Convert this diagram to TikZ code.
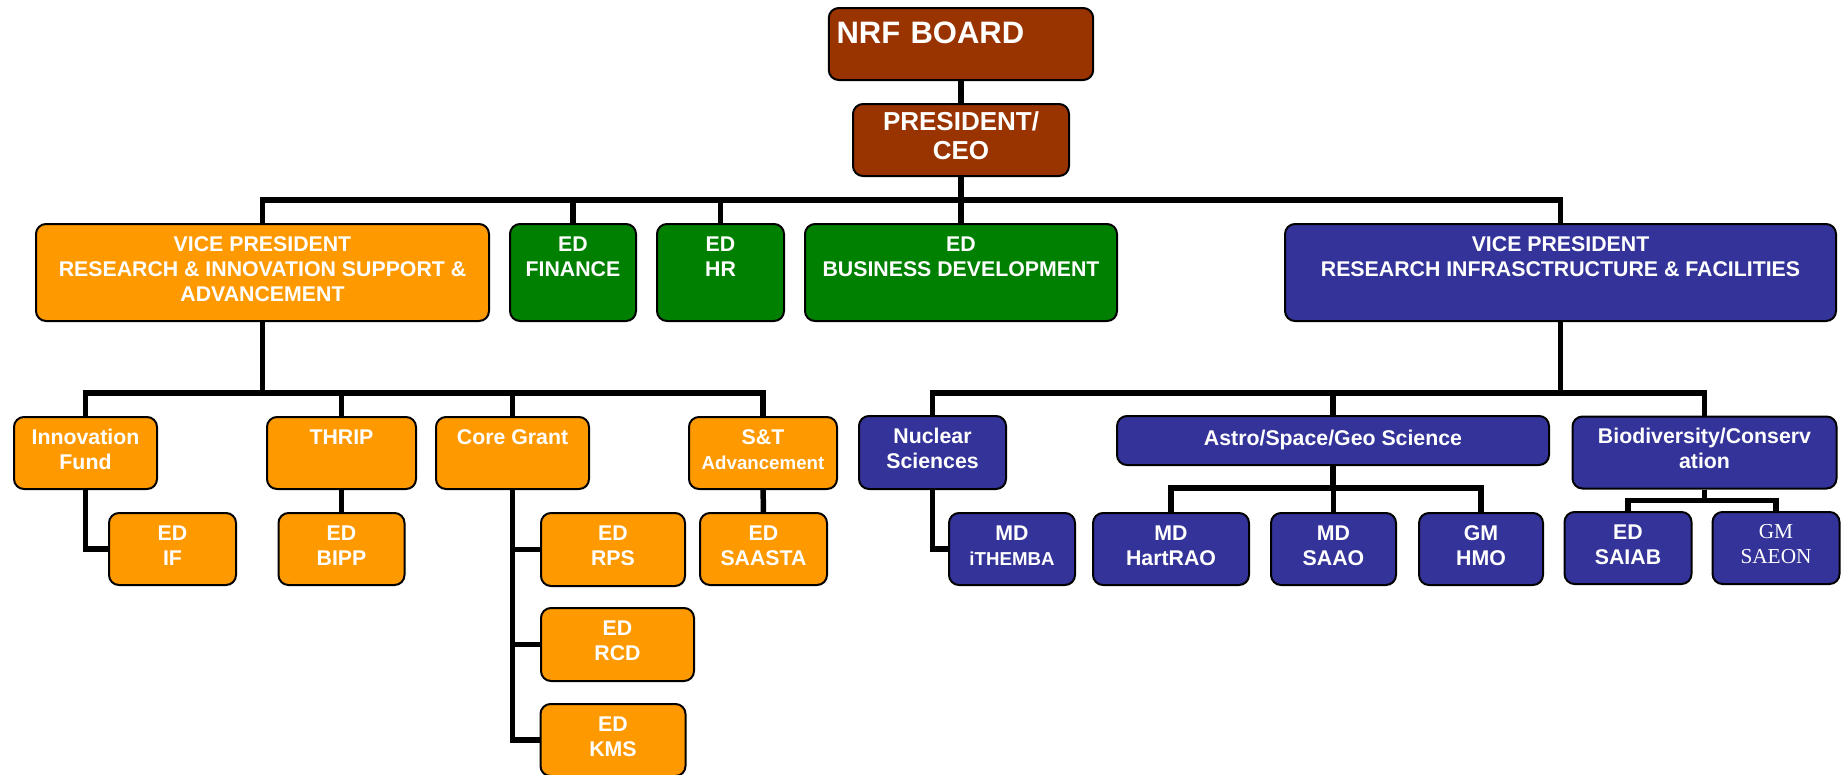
\documentclass[tikz,border=0pt]{standalone}
\usepackage{fontspec}
\setmainfont{Liberation Sans}
\newfontfamily\saeonfont{Liberation Serif}

\definecolor{nrfbrown}{RGB}{153,51,0}
\definecolor{nrforange}{RGB}{255,153,0}
\definecolor{nrfgreen}{RGB}{0,128,0}
\definecolor{nrfblue}{RGB}{51,51,153}
\newcommand{\unitfont}{\fontsize{21.3}{25}\selectfont\bfseries}
\newcommand{\smallunitfont}{\fontsize{18.7}{22}\selectfont\bfseries}

\begin{document}
\begin{tikzpicture}[x=1pt, y=-1pt,
    unit/.style={draw=black, line width=2pt, rounded corners=10pt, text=white, align=center, inner sep=0pt, font=\unitfont, execute at begin node=\strut, execute at end node=\strut},
    board/.style={unit, fill=nrfbrown},
    vpo/.style={unit, fill=nrforange},
    edg/.style={unit, fill=nrfgreen},
    vpb/.style={unit, fill=nrfblue},
    wh/.style 2 args={minimum width=#1, minimum height=#2},
    link/.style={draw=black, line width=5.5pt}]
    \useasboundingbox (0,0) rectangle (1846,774);

    % board and president
    \node[board, wh={264}{72}, text width=249, align=left, inner xsep=7.7, font=\fontsize{31}{36}\selectfont\bfseries, execute at begin node={}, execute at end node={}, text height=35.3, text depth=36.7] (nrf) at (961,44) {NRF BOARD};
    \node[board, wh={216}{72}, font=\fontsize{26}{29}\selectfont\bfseries] (pres) at (961,140) {PRESIDENT/\\CEO};

    % first level
    \node[vpo, wh={453}{97}] (vpl) at (262.5,272.5) {VICE PRESIDENT\\RESEARCH \& INNOVATION SUPPORT \&\\ADVANCEMENT};
    \node[edg, wh={126}{97}] (fin) at (573,272.5) {ED\\FINANCE\\};
    \node[edg, wh={127}{97}] (hr) at (720.5,272.5) {ED\\HR\\};
    \node[edg, wh={312}{97}] (bus) at (961,272.5) {ED\\BUSINESS DEVELOPMENT\\};
    \node[vpb, wh={551}{97}] (vpr) at (1560.5,272.5) {VICE PRESIDENT\\RESEARCH INFRASCTRUCTURE \& FACILITIES\\};

    % support & advancement
    \node[vpo, wh={143}{72}] (innov) at (85.5,453) {Innovation\\Fund};
    \node[vpo, wh={149}{72}] (thrip) at (341.5,453) {THRIP\\};
    \node[vpo, wh={153}{72}] (core) at (512.5,453) {Core Grant\\};
    \node[vpo, wh={148}{72}] (st) at (763,453) {S\&T\\{\smallunitfont Advancement}};
    \node[vpo, wh={127}{72}] (edif) at (172.5,549) {ED\\IF};
    \node[vpo, wh={126}{72}] (bipp) at (341.5,549) {ED\\BIPP};
    \node[vpo, wh={144}{73}] (rps) at (613,549.5) {ED\\RPS};
    \node[vpo, wh={153}{73}] (rcd) at (617.5,644.5) {ED\\RCD};
    \node[vpo, wh={145}{72}] (kms) at (613,740) {ED\\KMS};
    \node[vpo, wh={127}{72}] (saasta) at (763.5,549) {ED\\SAASTA};

    % infrastructure & facilities
    \node[vpb, wh={147}{73}] (nuc) at (932.5,452.5) {Nuclear\\Sciences};
    \node[vpb, wh={432}{49}] (astro) at (1333,440.5) {Astro/Space/Geo Science};
    \node[vpb, wh={264}{72}] (bio) at (1704.5,452.5) {Biodiversity/Conserv\\ation};
    \node[vpb, wh={126}{72}] (ith) at (1012,549) {MD\\{\smallunitfont iTHEMBA}};
    \node[vpb, wh={156}{72}] (hart) at (1171,549) {MD\\HartRAO};
    \node[vpb, wh={125}{72}] (saao) at (1333.5,549) {MD\\SAAO};
    \node[vpb, wh={124}{72}] (hmo) at (1481,549) {GM\\HMO};
    \node[vpb, wh={127}{72}] (saiab) at (1628,548) {ED\\SAIAB};
    \node[vpb, wh={127}{72}, font=\saeonfont\fontsize{21.3}{25}\selectfont] (saeon) at (1776,548) {GM\\SAEON};

    % connectors
    \coordinate (bar1) at (0,200);
    \coordinate (bar2) at (0,393);
    \coordinate (bar3) at (0,488);
    \coordinate (bar4) at (0,500.5);
    \draw[link] (nrf) -- (pres);
    \foreach \n in {vpl,fin,hr,bus,vpr}
        \draw[link] (pres.south) -- (pres.south |- bar1) -| (\n.north);
    \foreach \n in {innov,thrip,core,st}
        \draw[link] (vpl.south) -- (vpl.south |- bar2) -| (\n.north);
    \foreach \n in {nuc,astro,bio}
        \draw[link] (vpr.south) -- (vpr.south |- bar2) -| (\n.north);
    \foreach \n in {hart,saao,hmo}
        \draw[link] (astro.south) -- (astro.south |- bar3) -| (\n.north);
    \foreach \n in {saiab,saeon}
        \draw[link] (bio.south) -- (bio.south |- bar4) -| (\n.north);
    \draw[link] (innov.south) |- (edif.west);
    \draw[link] (thrip) -- (bipp);
    \foreach \n in {rps,rcd,kms}
        \draw[link] (core.south) |- (\n.west);
    \draw[link] (st) -- (saasta);
    \draw[link] (nuc.south) |- (ith.west);
\end{tikzpicture}
\end{document}
